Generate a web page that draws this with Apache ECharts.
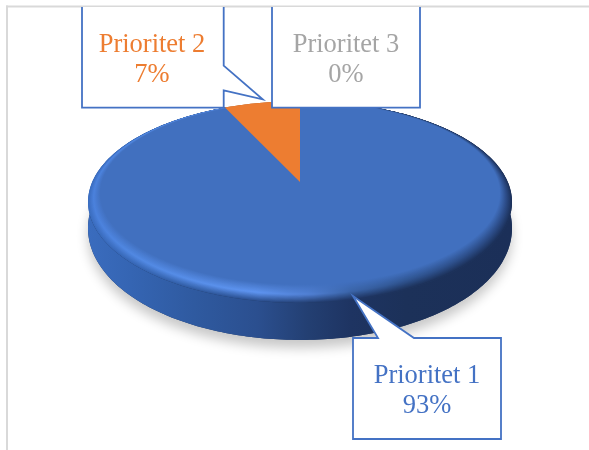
<!DOCTYPE html>
<html>
<head>
<meta charset="utf-8">
<style>html,body{margin:0;padding:0;background:#fff}#c{width:589px;height:450px}</style>
<script src="https://cdn.jsdelivr.net/npm/echarts@6/dist/echarts.min.js"></script>
</head>
<body>
<div id="c"></div>
<script>
const categories = ['Prioritet 1', 'Prioritet 2', 'Prioritet 3'];
const values = [93, 7, 0];
const colors = ['#4472C4', '#ED7D31', '#A5A5A5'];

const total = values.reduce((a, b) => a + b, 0);
const spans = [];
let acc = 0;
values.forEach(v => { spans.push([acc / total * 360, (acc + v) / total * 360]); acc += v; });

// perspective projection of the pie's disc
const cx = 300, cy = 182, A = 207.8, B = 97, K = 0.198;
function project(deg) {
  const t = deg * Math.PI / 180, u = Math.sin(t), v = -Math.cos(t), w = 1 - K * v;
  return [cx + A * u / w, cy + B * v / w];
}
function projectLow(deg) {
  const q = project(deg), v = -Math.cos(deg * Math.PI / 180);
  return [q[0], q[1] + 23.5 + 13.5 * v];
}
function arc(a0, a1, fn) {
  const out = [], n = Math.max(1, Math.ceil(a1 - a0));
  for (let i = 0; i <= n; i++) out.push(fn(a0 + (a1 - a0) * i / n));
  return out;
}
function hex(c) { return [1, 3, 5].map(k => parseInt(c.substr(k, 2), 16)); }
function mix(a, b, t) {
  const x = hex(a), y = hex(b);
  return 'rgb(' + x.map((v, k) => Math.round(v + (y[k] - v) * t)).join(',') + ')';
}
// shading ramps across the pie's width
const rampAt = [0, 0.1, 0.25, 0.4, 0.52, 0.62, 0.75, 1];
const wallRamp = ['#3A6CBE', '#3565B3', '#2F5AA0', '#2B4F8F', '#233F72', '#1E3462', '#1C3159', '#1B2F58'];
const lightRamp = ['#4A80DC', '#5088E2', '#588FEA', '#5E94F0', '#5080D4', '#3A64A8', '#2F5490', '#2B4A85'];
const flat = '#4170BF';
const wallFill = new echarts.graphic.LinearGradient(88, 0, 512, 0, rampAt.map((o, k) => ({offset: o, color: wallRamp[k]})), true);
function bevelFill(t) {
  return new echarts.graphic.LinearGradient(88, 0, 512, 0, rampAt.map((o, k) => {
    const col = t < 0.45
      ? mix(wallRamp[k], lightRamp[k], t / 0.45)
      : mix(lightRamp[k], flat, (t - 0.45) / 0.55);
    return {offset: o, color: col};
  }), true);
}
const shade = {1: '#A85822', 2: '#777777'};
const BEVEL_STEPS = 24;

function poly(points, style) {
  return {type: 'polygon', shape: {points}, style};
}
const empty = {type: 'group', children: []};
const layer = (z, renderItem) => ({
  type: 'custom', coordinateSystem: 'none', z, silent: true, animation: false, clip: false,
  data: categories.map((c, i) => i), renderItem
});
function visible(i) { return values[i] > 0; }

// callout outlines and label anchors
const callouts = [
  {closed: true, fill: [[353,338],[378,338],[353,296],[414,338],[501,338],[501,439],[353,439]], text: [427, 391]},
  {closed: false, fill: [[82,7],[82,107.7],[223.7,107.7],[223.7,90.3],[262.7,99.3],[223.7,65.7],[223.7,7]], text: [152, 60]},
  {closed: false, fill: [[272,7],[272,107.7],[420,107.7],[420,7]], text: [346, 60]}
];

const option = {
  backgroundColor: '#fff',
  animation: false,
  graphic: [
    {type: 'rect', z: 0, shape: {x: 6, y: 5.5, width: 583, height: 2}, style: {fill: '#D9D9D9'}},
    {type: 'rect', z: 0, shape: {x: 6, y: 5.5, width: 2, height: 445}, style: {fill: '#D9D9D9'}}
  ],
  series: [
    // ground shadow + underside
    layer(1, (p) => {
      const i = p.dataIndex, s = spans[i];
      if (!visible(i)) return empty;
      const pts = [[cx, cy + 30]].concat(arc(s[0], s[1], projectLow));
      return poly(pts, {fill: '#1F3864', shadowBlur: 12, shadowOffsetY: 8, shadowColor: 'rgba(0,0,0,0.22)'});
    }),
    // side wall
    layer(2, (p) => {
      const i = p.dataIndex, s = spans[i];
      if (!visible(i)) return empty;
      const topEdge = arc(s[0], s[1], project);
      const lowEdge = arc(s[0], s[1], projectLow).reverse();
      return poly(topEdge.concat(lowEdge), {fill: i === 0 ? wallFill : shade[i]});
    }),
    // bevel: nested wedges blending wall -> highlight -> flat top
    layer(3, (p) => {
      const i = p.dataIndex, s = spans[i];
      if (!visible(i) || i !== 0) return empty;
      const children = [];
      for (let n = 0; n <= BEVEL_STEPS; n++) {
        const t = n / BEVEL_STEPS, sx = 1 - 0.057 * t, sy = 1 - 0.095 * t;
        const pts = arc(s[0], s[1], d => {
          const q = project(d);
          return [cx + (q[0] - cx) * sx, 111.6 + (q[1] - 111.6) * sy];
        });
        children.push(poly([[cx, cy]].concat(pts), {fill: bevelFill(t)}));
      }
      return {type: 'group', children};
    }),
    // remaining slices on the top face
    layer(5, (p) => {
      const i = p.dataIndex, s = spans[i];
      if (!visible(i) || i === 0) return empty;
      return poly([[cx, cy]].concat(arc(s[0], s[1], project)), {fill: colors[i]});
    }),
    // callouts with labels
    layer(6, (p) => {
      const i = p.dataIndex, c = callouts[i];
      const pct = Math.round(values[i] / total * 100);
      return {
        type: 'group',
        children: [
          {type: 'polygon', shape: {points: c.fill}, style: {fill: '#fff'}},
          {type: c.closed ? 'polygon' : 'polyline', shape: {points: c.fill},
           style: {fill: c.closed ? '#fff' : 'none', stroke: '#4472C4', lineWidth: 1.8, lineJoin: 'miter'}},
          {type: 'text', x: c.text[0], y: c.text[1],
           style: {text: categories[i] + '\n' + pct + '%', fill: colors[i], align: 'center', verticalAlign: 'middle',
                   font: '26.5px "Liberation Serif", serif', lineHeight: 30}}
        ]
      };
    })
  ]
};
echarts.init(document.getElementById('c'), null, {renderer: 'canvas'}).setOption(option);
</script>
</body>
</html>
